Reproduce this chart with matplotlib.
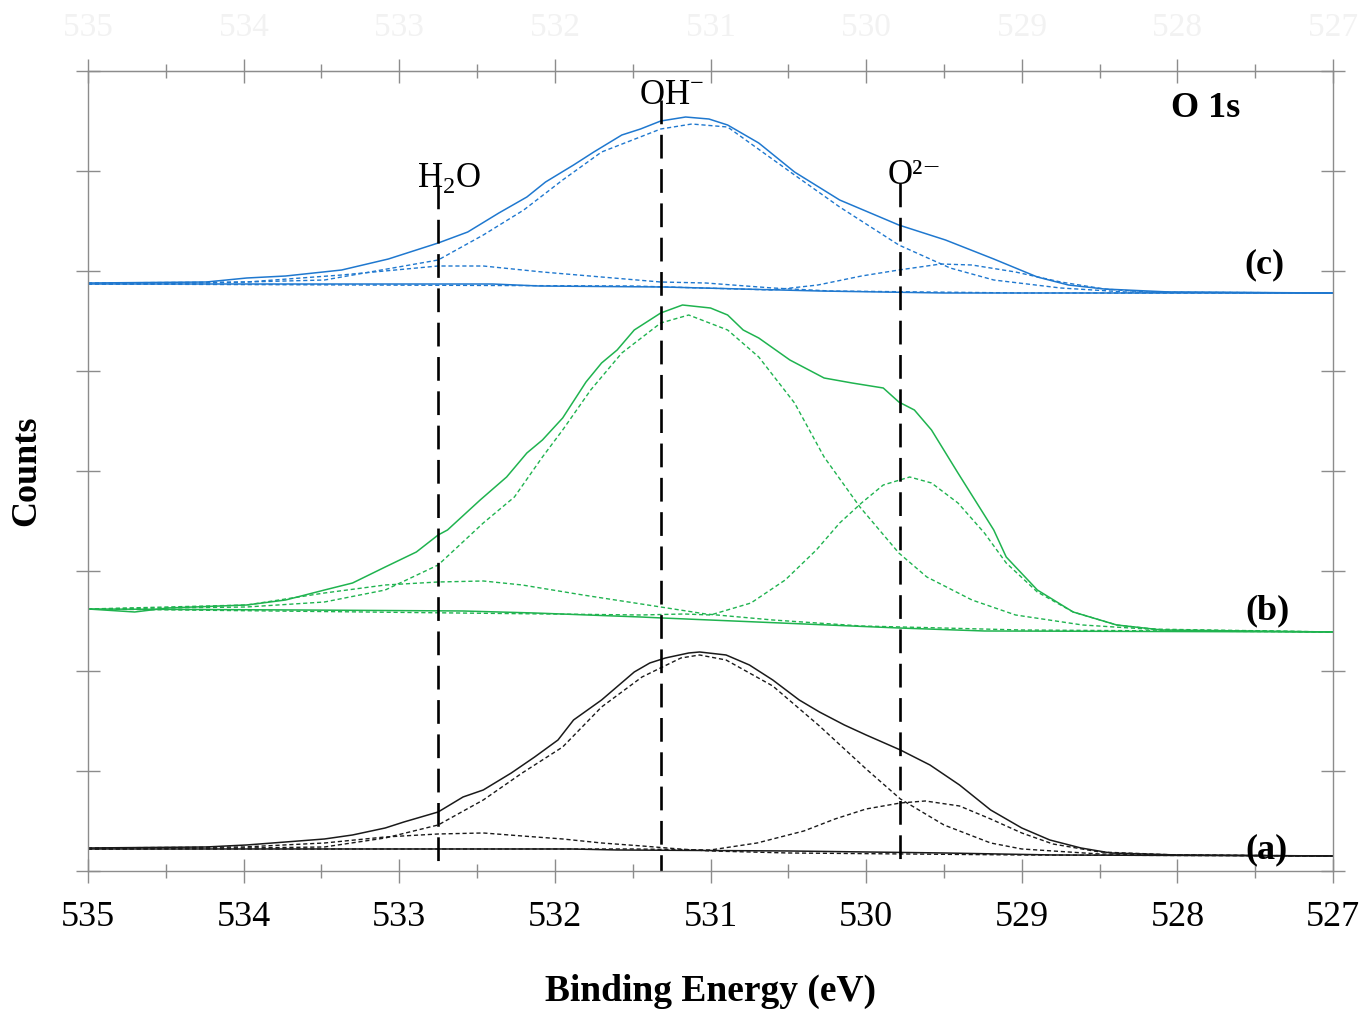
import matplotlib
matplotlib.use('Agg')
import matplotlib.pyplot as plt
from matplotlib.ticker import MultipleLocator, FixedLocator, FormatStrFormatter

plt.rcParams['font.family'] = ['Liberation Serif', 'DejaVu Serif']

# ---- sample (a), black ----
a_env_x = [535, 534.24, 533.98, 533.73, 533.48, 533.30, 533.09, 532.97, 532.75, 532.59, 532.46,
           532.28, 532.13, 531.98, 531.88, 531.70, 531.49, 531.39, 531.29, 531.14, 531.07, 530.90,
           530.75, 530.60, 530.43, 530.30, 530.14, 530.00, 529.78, 529.59, 529.40, 529.20, 529.00,
           528.82, 528.62, 528.43, 528.00, 527.0]
a_env_y = [0.23, 0.24, 0.26, 0.29, 0.32, 0.36, 0.43, 0.49, 0.59, 0.74, 0.81,
           0.98, 1.14, 1.31, 1.51, 1.71, 1.99, 2.08, 2.13, 2.18, 2.19, 2.16,
           2.06, 1.91, 1.71, 1.59, 1.46, 1.36, 1.21, 1.06, 0.86, 0.61, 0.43,
           0.31, 0.23, 0.18, 0.16, 0.15]
a_base_x = [535, 531.9, 531.6, 530.5, 529.5, 528.8, 527.0]
a_base_y = [0.22, 0.22, 0.21, 0.20, 0.18, 0.16, 0.15]
a_oh_x = [535, 534.0, 533.48, 533.09, 532.75, 532.46, 532.21, 531.95, 531.70, 531.44, 531.19,
          531.07, 530.90, 530.60, 530.30, 530.00, 529.78, 529.50, 529.20, 529.00, 528.50, 528.0, 527.0]
a_oh_y = [0.22, 0.23, 0.24, 0.33, 0.46, 0.71, 0.98, 1.24, 1.64, 1.94, 2.13,
          2.16, 2.11, 1.85, 1.45, 1.02, 0.72, 0.46, 0.28, 0.22, 0.17, 0.16, 0.15]
a_h2o_x = [535, 534.0, 533.48, 533.09, 532.75, 532.46, 532.21, 531.95, 531.70, 531.44, 531.20,
           531.00, 530.50, 529.00, 527.0]
a_h2o_y = [0.23, 0.24, 0.28, 0.34, 0.37, 0.38, 0.35, 0.32, 0.28, 0.25, 0.22,
           0.20, 0.18, 0.16, 0.15]
a_o_x = [535, 531.5, 531.0, 530.7, 530.4, 530.2, 530.0, 529.78, 529.62, 529.4, 529.2, 529.0,
         528.8, 528.5, 528.0, 527.0]
a_o_y = [0.22, 0.22, 0.21, 0.28, 0.40, 0.52, 0.62, 0.68, 0.70, 0.65, 0.52, 0.38,
         0.27, 0.19, 0.16, 0.15]

# ---- sample (b), green ----
b_env_x = [535, 534.70, 534.49, 533.98, 533.73, 533.48, 533.30, 533.09, 532.89, 532.75, 532.69,
           532.48, 532.31, 532.18, 532.08, 531.95, 531.80, 531.70, 531.60, 531.49, 531.32, 531.18,
           531.00, 530.89, 530.79, 530.69, 530.49, 530.27, 530.09, 529.89, 529.79, 529.69, 529.58,
           529.41, 529.18, 529.10, 528.90, 528.67, 528.39, 528.10, 527.0]
b_env_y = [2.62, 2.59, 2.63, 2.66, 2.71, 2.81, 2.88, 3.04, 3.19, 3.36, 3.41,
           3.71, 3.94, 4.18, 4.31, 4.53, 4.89, 5.08, 5.21, 5.41, 5.58, 5.66,
           5.63, 5.56, 5.41, 5.33, 5.11, 4.93, 4.88, 4.83, 4.69, 4.61, 4.41,
           3.98, 3.41, 3.14, 2.81, 2.59, 2.46, 2.41, 2.39]
b_base_x = [535, 533.65, 532.59, 532.13, 531.45, 531.31, 529.79, 529.24, 527.0]
b_base_y = [2.62, 2.61, 2.60, 2.58, 2.54, 2.53, 2.43, 2.40, 2.39]
b_oh_x = [535, 534.5, 533.98, 533.48, 533.09, 532.75, 532.46, 532.26, 532.08, 531.95, 531.77,
          531.57, 531.32, 531.14, 530.89, 530.69, 530.46, 530.27, 530.04, 529.79, 529.61, 529.32,
          529.04, 528.61, 528.2, 527.0]
b_oh_y = [2.62, 2.63, 2.64, 2.69, 2.81, 3.06, 3.48, 3.74, 4.14, 4.41, 4.81,
          5.18, 5.48, 5.56, 5.41, 5.14, 4.68, 4.14, 3.64, 3.18, 2.94, 2.71,
          2.56, 2.46, 2.42, 2.39]
b_h2o_x = [535, 533.98, 533.48, 533.09, 532.75, 532.46, 532.21, 531.82, 531.32, 531.03, 530.60,
           530.03, 529.0, 527.0]
b_h2o_y = [2.62, 2.66, 2.78, 2.86, 2.89, 2.90, 2.86, 2.76, 2.64, 2.57, 2.51,
           2.45, 2.41, 2.39]
b_o_x = [535, 531.45, 531.17, 531.0, 530.74, 530.52, 530.32, 530.17, 530.03, 529.89, 529.72,
         529.58, 529.41, 529.24, 529.10, 528.90, 528.67, 528.39, 528.10, 527.0]
b_o_y = [2.62, 2.56, 2.57, 2.56, 2.68, 2.91, 3.21, 3.48, 3.68, 3.86, 3.94,
         3.88, 3.68, 3.38, 3.08, 2.79, 2.59, 2.46, 2.41, 2.39]

# ---- sample (c), blue ----
c_env_x = [535, 534.24, 533.98, 533.73, 533.37, 533.07, 532.75, 532.56, 532.36, 532.18, 532.06,
           531.88, 531.75, 531.57, 531.45, 531.32, 531.16, 531.01, 530.89, 530.69, 530.46, 530.17,
           529.79, 529.49, 529.18, 528.90, 528.70, 528.47, 528.05, 527.0]
c_env_y = [5.88, 5.89, 5.93, 5.95, 6.01, 6.12, 6.28, 6.39, 6.58, 6.74, 6.89,
           7.06, 7.19, 7.36, 7.42, 7.50, 7.54, 7.52, 7.46, 7.28, 6.99, 6.71,
           6.46, 6.31, 6.12, 5.94, 5.86, 5.82, 5.79, 5.78]
c_base_x = [535, 532.4, 532.1, 531.3, 530.3, 529.5, 527.0]
c_base_y = [5.87, 5.87, 5.85, 5.84, 5.80, 5.78, 5.78]
c_oh_x = [535, 534.24, 533.48, 532.75, 532.46, 532.20, 531.95, 531.70, 531.32, 531.12, 530.89,
          530.46, 530.17, 529.79, 529.46, 529.18, 528.75, 528.33, 527.0]
c_oh_y = [5.87, 5.88, 5.91, 6.11, 6.36, 6.61, 6.91, 7.19, 7.42, 7.47, 7.44,
          6.96, 6.64, 6.26, 6.03, 5.91, 5.83, 5.79, 5.78]
c_h2o_x = [535, 533.98, 533.37, 532.75, 532.46, 532.08, 531.70, 531.32, 531.03, 530.60, 530.23,
           529.0, 527.0]
c_h2o_y = [5.88, 5.89, 5.96, 6.05, 6.05, 5.99, 5.94, 5.89, 5.88, 5.83, 5.80,
           5.78, 5.78]
c_o_x = [535, 531.5, 530.60, 530.31, 530.03, 529.79, 529.52, 529.32, 529.04, 528.75, 528.47,
         528.2, 527.0]
c_o_y = [5.87, 5.85, 5.81, 5.86, 5.95, 6.01, 6.07, 6.06, 5.99, 5.89, 5.82,
         5.79, 5.78]

# tick values (the top row is printed almost white in the original)
energy_ticks = [535, 534, 533, 532, 531, 530, 529, 528, 527]

# peak positions and label marks
peak_pos = [532.75, 531.32, 529.78]
peak_top = [6.86, 7.71, 6.88]
peak_bot = [0.0, 0.0, 0.05]
peak_names = [r'H$_{\mathregular{2}}$O', r'OH$^{\mathregular{-}}$', 'O\u00b2\u207b']
sample_names = ['(a)', '(b)', '(c)']

samples = [
    ('#1a1a1a', a_env_x, a_env_y, a_base_x, a_base_y,
     [(a_oh_x, a_oh_y), (a_h2o_x, a_h2o_y), (a_o_x, a_o_y)]),
    ('#1fb34f', b_env_x, b_env_y, b_base_x, b_base_y,
     [(b_oh_x, b_oh_y), (b_h2o_x, b_h2o_y), (b_o_x, b_o_y)]),
    ('#1f78cf', c_env_x, c_env_y, c_base_x, c_base_y,
     [(c_oh_x, c_oh_y), (c_h2o_x, c_h2o_y), (c_o_x, c_o_y)]),
]

fig = plt.figure(figsize=(13.64, 10.13), dpi=100)
ax = fig.add_axes([0.0645, 0.1402, 0.9128, 0.7897])

for color, ex, ey, bx, by, comps in samples:
    ax.plot(ex, ey, color=color, lw=1.1)
    ax.plot(bx, by, color=color, lw=1.1)
    for cx, cy in comps:
        ax.plot(cx, cy, color=color, lw=1.0, dashes=(3, 2))

# dashed markers drawn from the top down so a dash starts under each label
for p, top, bot in zip(peak_pos, peak_top, peak_bot):
    ax.plot([p, p], [top, bot], color='black', lw=1.9, dashes=(9, 4))

# labels
ax.text(532.68, 6.93, peak_names[0], fontsize=25, ha='center', va='center')
ax.text(531.25, 7.76, peak_names[1], fontsize=25, ha='center', va='center')
ax.text(529.69, 6.96, peak_names[2], fontsize=25, ha='center', va='center')
ax.text(527.82, 7.63, 'O 1s', fontsize=26, fontweight='bold', ha='center', va='center')
label_pos = [(527.43, 0.21), (527.42, 2.60), (527.44, 6.06)]
for name, (lx, ly) in zip(sample_names, label_pos):
    ax.text(lx, ly, name, fontsize=26, fontweight='bold', ha='center', va='center')

ax.set_xlim(535, 527)
ax.set_ylim(0, 8)
ax.xaxis.set_major_locator(FixedLocator(energy_ticks))
ax.xaxis.set_minor_locator(MultipleLocator(0.5))
ax.xaxis.set_major_formatter(FormatStrFormatter('%d'))
ax.yaxis.set_major_locator(MultipleLocator(1))

for s in ax.spines.values():
    s.set_color('#8c8c8c')
    s.set_linewidth(1.0)

ax.tick_params(axis='x', which='major', direction='inout', length=17, width=1.0,
               color='#8c8c8c', top=True, labelsize=26, pad=13)
ax.tick_params(axis='x', which='minor', direction='inout', length=10, width=1.0,
               color='#8c8c8c', top=True)
ax.tick_params(axis='y', which='major', direction='inout', length=17, width=1.0,
               color='#8c8c8c', right=True, labelleft=False)

# faint labels along the top axis
sec = ax.secondary_xaxis('top')
sec.xaxis.set_major_locator(FixedLocator(energy_ticks))
sec.xaxis.set_major_formatter(FormatStrFormatter('%d'))
sec.tick_params(axis='x', length=0, labelsize=24, labelcolor='#f2f2f2', pad=20)
sec.spines['top'].set_color('#8c8c8c')

ax.set_xlabel('Binding Energy (eV)', fontsize=27, fontweight='bold', labelpad=29)
ax.set_ylabel('Counts', fontsize=26, fontweight='bold', labelpad=24)

fig.savefig('out.png', dpi=100)
